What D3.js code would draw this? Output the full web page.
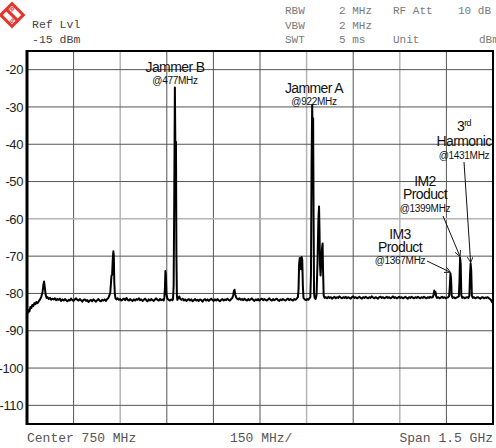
<!DOCTYPE html>
<html>
<head>
<meta charset="utf-8">
<script src="https://cdn.jsdelivr.net/npm/d3@7"></script>
<style>
  body { margin: 0; background: #fff; }
  svg { display: block; }
  .hdr { font-family: "Liberation Mono", "DejaVu Sans Mono", monospace; }
  .lbl { font-family: "Liberation Sans", Arial, sans-serif; fill: #111; }
</style>
</head>
<body>
<svg width="496" height="448"></svg>
<script>
// spectrum trace, [frequency MHz, level dBm]
var trace = [
  [0,-84.6],[2,-85.2],[5,-84.4],[8,-84.8],[11,-83.6],[14,-83.9],[17,-83.1],[20,-83.4],[24,-82.6],[27,-82.9],
  [30,-82.3],[34,-82.6],[38,-82.1],[42,-81.6],[46,-80.9],[50,-79.6],[53,-77.6],[55,-76.8],[57,-78.2],[60,-80.3],
  [63,-81.2],[66,-81.0],[70,-81.5],[74,-81.2],[78,-81.7],[82,-81.4],[86,-81.6],[90,-81.3],[94,-81.8],[98,-81.5],
  [102,-81.7],[106,-81.4],[110,-82.0],[114,-81.6],[118,-81.9],[122,-81.5],[126,-81.8],[130,-82.1],[134,-81.7],
  [138,-81.9],[142,-81.4],[146,-81.8],[150,-82.0],[154,-81.6],[158,-81.3],[162,-81.7],[166,-81.9],[170,-81.5],
  [174,-81.8],[178,-82.2],[182,-81.7],[186,-81.6],[190,-82.0],[194,-81.8],[198,-82.3],[202,-81.9],[206,-81.7],
  [210,-82.1],[214,-81.6],[218,-81.9],[222,-82.2],[226,-81.8],[230,-81.5],[234,-81.9],[238,-82.1],[242,-81.7],
  [246,-81.9],[250,-81.6],[254,-82.0],[258,-81.5],[262,-81.2],[265,-80.6],[268,-79.8],[270,-77.5],[272,-75.2],
  [274,-75.0],[276,-71],[278,-68.7],[279.5,-70],[281,-77],[283,-80.4],[285,-81.3],[288,-81.6],[292,-81.3],
  [296,-81.7],[300,-81.5],[304,-81.9],[308,-81.6],[312,-81.4],[316,-81.8],[320,-81.2],[324,-81.7],[328,-81.9],
  [332,-81.5],[336,-81.8],[340,-82.0],[344,-81.6],[348,-81.9],[352,-81.5],[356,-81.7],[360,-81.3],[364,-81.8],
  [368,-81.6],[372,-82.0],[376,-81.7],[380,-81.4],[384,-81.8],[388,-82.1],[392,-81.6],[396,-81.9],[400,-81.5],
  [404,-81.8],[408,-82.0],[412,-81.6],[416,-81.3],[420,-81.7],[424,-81.9],[428,-81.5],[432,-81.8],[436,-81.6],
  [440,-81.9],[442,-81.2],[444,-78.5],[445.5,-74],[447,-75],[449,-80.2],[452,-81.4],[456,-81.7],[460,-81.9],
  [464,-81.6],[468,-81.8],[470,-81.5],[472,-78],[474,-55],[476,-24.8],[478,-45],[479.5,-39.3],[481,-70],
  [482.5,-80.5],[484,-81.7],[487,-81.2],[490,-80.8],[493,-81.4],[497,-81.7],[501,-81.4],[505,-81.9],[509,-81.6],
  [513,-82.0],[517,-81.7],[521,-81.5],[525,-81.9],[529,-81.6],[533,-82.1],[537,-81.8],[541,-81.5],[545,-81.9],
  [549,-81.7],[553,-82.0],[557,-81.6],[561,-81.8],[565,-82.2],[569,-81.7],[573,-81.5],[577,-81.9],[581,-81.6],
  [585,-82.0],[589,-81.7],[593,-81.4],[597,-81.8],[601,-82.0],[605,-81.6],[609,-81.9],[613,-81.5],[617,-81.8],
  [621,-82.1],[625,-81.7],[629,-81.5],[633,-81.9],[637,-81.6],[641,-81.8],[645,-81.4],[649,-81.7],[653,-81.9],
  [657,-81.5],[661,-81.2],[664,-80.4],[666,-79.3],[668,-79.0],[670,-80.2],[673,-81.0],[676,-81.4],[680,-81.6],
  [684,-81.3],[688,-81.7],[692,-81.5],[696,-81.8],[700,-81.4],[704,-81.7],[708,-81.9],[712,-81.5],[716,-81.8],
  [720,-81.6],[724,-81.3],[728,-81.7],[732,-82.0],[736,-81.6],[740,-81.8],[744,-81.5],[748,-81.9],[752,-81.6],
  [756,-81.4],[760,-81.8],[764,-81.5],[768,-81.7],[772,-81.9],[776,-81.6],[780,-81.3],[784,-81.7],[788,-81.9],
  [792,-81.5],[796,-81.8],[800,-81.6],[804,-81.4],[808,-81.8],[812,-82.0],[816,-81.6],[820,-81.8],[824,-81.5],
  [828,-81.7],[832,-81.9],[836,-81.6],[840,-81.4],[844,-81.8],[848,-81.5],[852,-81.7],[856,-81.9],[860,-81.5],
  [864,-81.7],[868,-81.4],[872,-81.0],[874,-79],[876,-72],[878,-70.5],[880,-71.5],[882,-73.5],[884,-70.2],
  [886,-71],[888,-78],[890,-81.2],[894,-81.6],[898,-81.8],[902,-81.5],[906,-81.7],[909,-81.3],[912,-81],
  [914,-75],[916,-45],[918,-29.4],[919.5,-40],[921,-33],[922.5,-60],[924,-80],[926,-81.2],[929,-81.5],
  [932,-80.5],[935,-72],[938,-60],[940,-56.7],[941.5,-63],[943,-72],[945,-75.2],[947,-72],[949.5,-68],
  [951.5,-66.6],[953,-74],[955,-80.5],[958,-81.2],[962,-81.0],[966,-81.3],[970,-80.9],[974,-81.2],[978,-81.0],
  [982,-81.4],[986,-81.1],[990,-80.9],[994,-81.3],[998,-81.0],[1002,-81.2],[1006,-80.8],[1010,-81.1],[1014,-81.3],
  [1018,-81.0],[1022,-81.2],[1026,-80.9],[1030,-81.3],[1034,-81.0],[1038,-81.2],[1042,-81.4],[1046,-81.0],
  [1050,-80.8],[1054,-81.2],[1058,-81.0],[1062,-81.3],[1066,-81.1],[1070,-80.9],[1074,-81.2],[1078,-81.4],
  [1082,-81.0],[1086,-81.2],[1090,-80.9],[1094,-81.1],[1098,-81.3],[1102,-81.0],[1106,-81.2],[1110,-80.8],
  [1114,-81.1],[1118,-81.3],[1122,-81.0],[1126,-81.2],[1130,-81.4],[1134,-81.0],[1138,-80.9],[1142,-81.2],
  [1146,-81.0],[1150,-81.3],[1154,-81.1],[1158,-80.9],[1162,-81.2],[1166,-81.0],[1170,-81.3],[1174,-81.1],
  [1178,-80.8],[1182,-81.2],[1186,-81.0],[1190,-81.3],[1194,-81.1],[1198,-80.9],[1202,-81.2],[1206,-81.0],
  [1210,-81.3],[1214,-81.1],[1218,-80.9],[1222,-81.2],[1226,-81.4],[1230,-81.0],[1234,-81.2],[1238,-80.9],
  [1242,-81.1],[1246,-81.3],[1250,-81.0],[1254,-81.2],[1258,-80.9],[1262,-81.1],[1266,-81.3],[1270,-81.0],
  [1274,-81.2],[1278,-80.9],[1282,-81.1],[1286,-81.3],[1290,-81.0],[1294,-81.2],[1298,-80.9],[1302,-81.1],
  [1306,-81.0],[1309,-80.2],[1311,-79.2],[1313,-80.3],[1315,-79.6],[1317,-80.8],[1320,-81.2],[1324,-81.0],
  [1328,-81.3],[1332,-81.1],[1336,-80.9],[1340,-81.2],[1344,-81.0],[1348,-81.3],[1352,-81.1],[1356,-81.0],
  [1359,-80.6],[1361,-78],[1363,-74.6],[1365,-76],[1367,-80.5],[1370,-81.2],[1374,-81.0],[1378,-81.3],
  [1382,-81.1],[1386,-81.0],[1390,-80.8],[1392,-77],[1394,-70.4],[1396,-72],[1398,-80.5],[1401,-81.2],
  [1405,-81.0],[1409,-81.3],[1413,-81.1],[1417,-81.0],[1421,-81.2],[1424,-80.6],[1426,-75],[1428,-72],
  [1430,-74],[1432,-80.6],[1435,-81.2],[1439,-81.0],[1443,-81.3],[1447,-81.1],[1451,-81.0],[1455,-81.2],
  [1459,-81.4],[1463,-81.1],[1467,-81.0],[1471,-81.3],[1475,-81.1],[1479,-81.2],[1483,-81.0],[1487,-81.3],
  [1490,-81.5],[1494,-81.8],[1497,-82.3],[1500,-82.6]
];

var yTicks = [-20, -30, -40, -50, -60, -70, -80, -90, -100, -110];
var xGrid = [0, 150, 300, 450, 600, 750, 900, 1050, 1200, 1350, 1500];
var lightX = [300, 900, 1200];   // grid lines that show up paler in the screen shot
var lightY = [-60];

var headerLeft = ["Ref Lvl", "-15 dBm"];
var headerRight = [
  ["RBW", "2 MHz", "RF Att", "10 dB"],
  ["VBW", "2 MHz", "", ""],
  ["SWT", "5 ms", "Unit", "dBm"]
];
var footer = ["Center 750 MHz", "150 MHz/", "Span 1.5 GHz"];

// labelled peaks: text lines, peak frequency (MHz), peak level (dBm)
var peakNames = [["Jammer B", "@477MHz"], ["Jammer A", "@922MHz"], ["3rd", "Harmonic", "@1431MHz"],
                 ["IM2", "Product", "@1399MHz"], ["IM3", "Product", "@1367MHz"]];
var peakFreq = [477, 922, 1428, 1394, 1363];
var peakLevel = [-24.8, -29.4, -72, -70.4, -74.6];

var svg = d3.select("svg");
var x = d3.scaleLinear().domain([0, 1500]).range([27, 493]);
var y = d3.scaleLinear().domain([-115, -15]).range([424, 51]);

// grid
var g = svg.append("g");
g.selectAll(".vg").data(xGrid).enter().append("line")
  .attr("x1", d => x(d)).attr("x2", d => x(d))
  .attr("y1", y(-15)).attr("y2", y(-115))
  .attr("stroke", d => lightX.indexOf(d) >= 0 ? "#b4b4b4" : "#555")
  .attr("stroke-width", d => lightX.indexOf(d) >= 0 ? 1.5 : 1);
g.selectAll(".hg").data(yTicks).enter().append("line")
  .attr("x1", x(0)).attr("x2", x(1500))
  .attr("y1", d => y(d)).attr("y2", d => y(d))
  .attr("stroke", d => lightY.indexOf(d) >= 0 ? "#b4b4b4" : "#555")
  .attr("stroke-width", d => lightY.indexOf(d) >= 0 ? 1.5 : 1);

// y axis labels
var ya = svg.append("g")
  .attr("transform", "translate(24,0)")
  .call(d3.axisLeft(y).tickValues(yTicks).tickSize(0).tickPadding(1)
    .tickFormat(d => String(d)));
ya.select(".domain").remove();
ya.selectAll("text")
  .attr("font-family", "Liberation Sans, Arial, sans-serif")
  .attr("font-size", 13).attr("letter-spacing", -0.4).attr("fill", "#222");

// trace
svg.append("path")
  .datum(trace)
  .attr("fill", "none")
  .attr("stroke", "#000")
  .attr("stroke-width", 2)
  .attr("stroke-linejoin", "round")
  .attr("d", d3.line().x(d => x(d[0])).y(d => y(d[1])));

// frame
svg.append("rect")
  .attr("x", x(0)).attr("y", y(-15))
  .attr("width", x(1500) - x(0)).attr("height", y(-115) - y(-15))
  .attr("fill", "none").attr("stroke", "#000").attr("stroke-width", 2);
svg.append("line")
  .attr("x1", x(0)).attr("x2", x(0)).attr("y1", y(-15) - 1).attr("y2", y(-115) + 1)
  .attr("stroke", "#000").attr("stroke-width", 3);

// header
var logo = svg.append("g").attr("transform", "translate(12,15) rotate(45)");
logo.append("rect").attr("x", -8).attr("y", -8).attr("width", 16).attr("height", 16)
  .attr("fill", "#fff").attr("stroke", "#e8332a").attr("stroke-width", 3);
logo.append("line").attr("x1", -8).attr("x2", 8).attr("y1", 0).attr("y2", 0)
  .attr("stroke", "#e8332a").attr("stroke-width", 3);
logo.append("text").attr("x", -4).attr("y", -2).attr("font-size", 6).attr("fill", "#e8332a")
  .attr("text-anchor", "middle").attr("font-family", "Liberation Sans").attr("font-weight", "bold").text("R");
logo.append("text").attr("x", 4).attr("y", 6).attr("font-size", 6).attr("fill", "#e8332a")
  .attr("text-anchor", "middle").attr("font-family", "Liberation Sans").attr("font-weight", "bold").text("S");

svg.selectAll(".hl").data(headerLeft).enter().append("text")
  .attr("class", "hdr").attr("x", 32).attr("y", (d, i) => 28 + i * 15)
  .attr("font-size", 11.5).attr("fill", "#444").text(d => d);

var colX = [285, 339, 393, 458];
headerRight.forEach(function(row, r) {
  row.forEach(function(t, c) {
    if (!t) return;
    svg.append("text").attr("class", "hdr")
      .attr("x", r == 2 && c == 3 ? 479 : colX[c]).attr("y", 14 + r * 14.5)
      .attr("font-size", 11).attr("fill", "#7a7a7a").attr("xml:space", "preserve").text(t);
  });
});

svg.selectAll(".ft").data(footer).enter().append("text")
  .attr("class", "hdr")
  .attr("x", (d, i) => [27, 230, 493][i])
  .attr("text-anchor", (d, i) => i == 2 ? "end" : "start")
  .attr("y", 442).attr("font-size", 13).attr("fill", "#555").text(d => d);

// peak labels
var labelPos = [
  { cx: 175, base: [72, 84] },
  { cx: 314, base: [93, 104.5] },
  { cx: 464, base: [131, 146, 159], from: [464, 162] },
  { cx: 425, base: [186, 198.5, 211.5], from: [443, 216] },
  { cx: 400, base: [239, 251.5, 264], from: [427, 261] }
];

var defs = svg.append("defs");
defs.append("marker").attr("id", "vee")
  .attr("viewBox", "0 0 10 10").attr("refX", 10).attr("refY", 5)
  .attr("markerWidth", 6).attr("markerHeight", 6).attr("orient", "auto")
  .append("path").attr("d", "M0,0 L10,5 L0,10").attr("fill", "none")
  .attr("stroke", "#111").attr("stroke-width", 1.4);

peakNames.forEach(function(lines, i) {
  var p = labelPos[i];
  lines.forEach(function(t, j) {
    var small = t.charAt(0) == "@";
    var txt = svg.append("text").attr("class", "lbl")
      .attr("x", p.cx).attr("y", p.base[j])
      .attr("text-anchor", "middle")
      .attr("font-size", small ? 10 : 14)
      .attr("letter-spacing", small ? -0.3 : -0.6);
    if (t == "3rd") {
      txt.append("tspan").text("3");
      txt.append("tspan").attr("font-size", 9).attr("dy", -5).text("rd");
    } else {
      txt.text(t);
    }
  });
  if (p.from) {
    svg.append("line")
      .attr("x1", p.from[0]).attr("y1", p.from[1])
      .attr("x2", x(peakFreq[i])).attr("y2", y(peakLevel[i]) - 1)
      .attr("stroke", "#111").attr("stroke-width", 1)
      .attr("marker-end", "url(#vee)");
  }
});
</script>
</body>
</html>
